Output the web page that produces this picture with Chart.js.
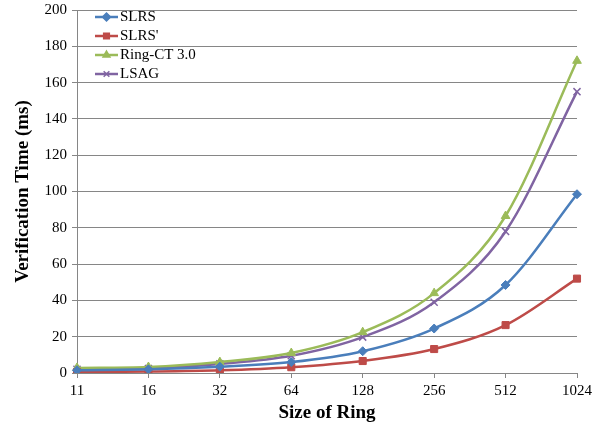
<!DOCTYPE html>
<html>
<head>
<meta charset="utf-8">
<script src="https://cdn.jsdelivr.net/npm/chart.js@4/dist/chart.umd.min.js"></script>
<style>
  body { margin: 0; background: #fff; }
  canvas { display: block; }
</style>
</head>
<body>
<canvas id="verifyChart" width="608" height="426"></canvas>
<script>
const ringSizes = ['11', '16', '32', '64', '128', '256', '512', '1024'];
const slrs = [1.5, 2, 3.5, 6, 12, 24.5, 48.5, 98.5];
const slrsPrime = [0.5, 0.8, 1.5, 3.2, 6.6, 13.2, 26.4, 52];
const ringCT = [2.8, 3.3, 6, 11, 22.5, 44, 86.5, 172];
const lsag = [2, 2.5, 5, 9.5, 19.8, 39, 78, 155];

const serif = "'Liberation Serif', 'Times New Roman', serif";
const gridGray = '#868686';

// legend swatch: short line with the marker in the middle
function swatch(color, style) {
    const c = document.createElement('canvas');
    c.width = 35; c.height = 14;
    const g = c.getContext('2d');
    g.strokeStyle = color;
    g.fillStyle = color;
    g.lineWidth = 2.5;
    g.beginPath();
    g.moveTo(12, 7);
    g.lineTo(35, 7);
    g.stroke();
    g.lineWidth = 1.5;
    Chart.helpers.drawPoint(g, {pointStyle: style, radius: 4, rotation: 0, borderWidth: 1.5}, 23.5, 7);
    return c;
}

const series = [
    {label: 'SLRS', data: slrs, color: '#4A7EBB', style: 'rectRot', r: 4.5},
    {label: "SLRS'", data: slrsPrime, color: '#BE4B48', style: 'rect', r: 5},
    {label: 'Ring-CT 3.0', data: ringCT, color: '#9BBB59', style: 'triangle', r: 5},
    {label: 'LSAG', data: lsag, color: '#8064A2', style: 'crossRot', r: 5}
];

// legend sits inside the plot, top-left
const moveLegend = {
    id: 'moveLegend',
    afterLayout(chart) {
        const lg = chart.legend;
        const h = lg.bottom - lg.top;
        lg.top = 5.5; lg.bottom = 5.5 + h;
        lg.left += 7.5; lg.right += 7.5;
    }
};

new Chart(document.getElementById('verifyChart').getContext('2d'), {
    type: 'line',
    data: {
        labels: ringSizes,
        datasets: series.map(s => ({
            label: s.label,
            data: s.data,
            borderColor: s.color,
            backgroundColor: s.color,
            borderWidth: 2.5,
            pointStyle: s.style,
            pointRadius: s.r,
            pointBorderWidth: s.style === 'crossRot' ? 1.5 : 1,
            cubicInterpolationMode: 'monotone',
            fill: false
        }))
    },
    options: {
        responsive: false,
        animation: false,
        events: [],
        layout: {
            padding: {top: 10, right: 31, left: 0, bottom: 0}
        },
        plugins: {
            legend: {
                position: 'chartArea',
                align: 'start',
                labels: {
                    usePointStyle: true,
                    pointStyleWidth: 24,
                    padding: 4,
                    color: '#000',
                    font: {family: serif, size: 15},
                    generateLabels: (chart) => series.map((s, i) => ({
                        text: s.label,
                        pointStyle: swatch(s.color, s.style),
                        fontColor: '#000',
                        datasetIndex: i,
                        lineWidth: 0,
                        hidden: false
                    }))
                }
            },
            tooltip: {enabled: false}
        },
        scales: {
            x: {
                offset: false,
                grid: {
                    drawOnChartArea: false,
                    drawTicks: true,
                    tickLength: 5,
                    color: gridGray
                },
                border: {color: gridGray},
                ticks: {
                    color: '#000',
                    font: {family: serif, size: 15},
                    padding: 4,
                    maxRotation: 0,
                    autoSkip: false
                },
                title: {
                    display: true,
                    text: 'Size of Ring',
                    color: '#000',
                    font: {family: serif, size: 19, weight: 'bold'},
                    padding: {top: 0, bottom: 2}
                },
                afterFit: (scale) => { scale.height = 53; }
            },
            y: {
                min: 0,
                max: 200,
                grid: {
                    color: gridGray,
                    tickLength: 5
                },
                border: {color: gridGray},
                ticks: {
                    stepSize: 20,
                    color: '#000',
                    font: {family: serif, size: 15},
                    padding: 5
                },
                title: {
                    display: true,
                    text: 'Verification Time (ms)',
                    color: '#000',
                    font: {family: serif, size: 19, weight: 'bold'},
                    padding: {top: 12, bottom: 0}
                },
                afterFit: (scale) => {
                    scale.width = 77;
                    scale.paddingTop = 0;
                    scale.paddingBottom = 0;
                }
            }
        }
    },
    plugins: [moveLegend]
});
</script>
</body>
</html>
